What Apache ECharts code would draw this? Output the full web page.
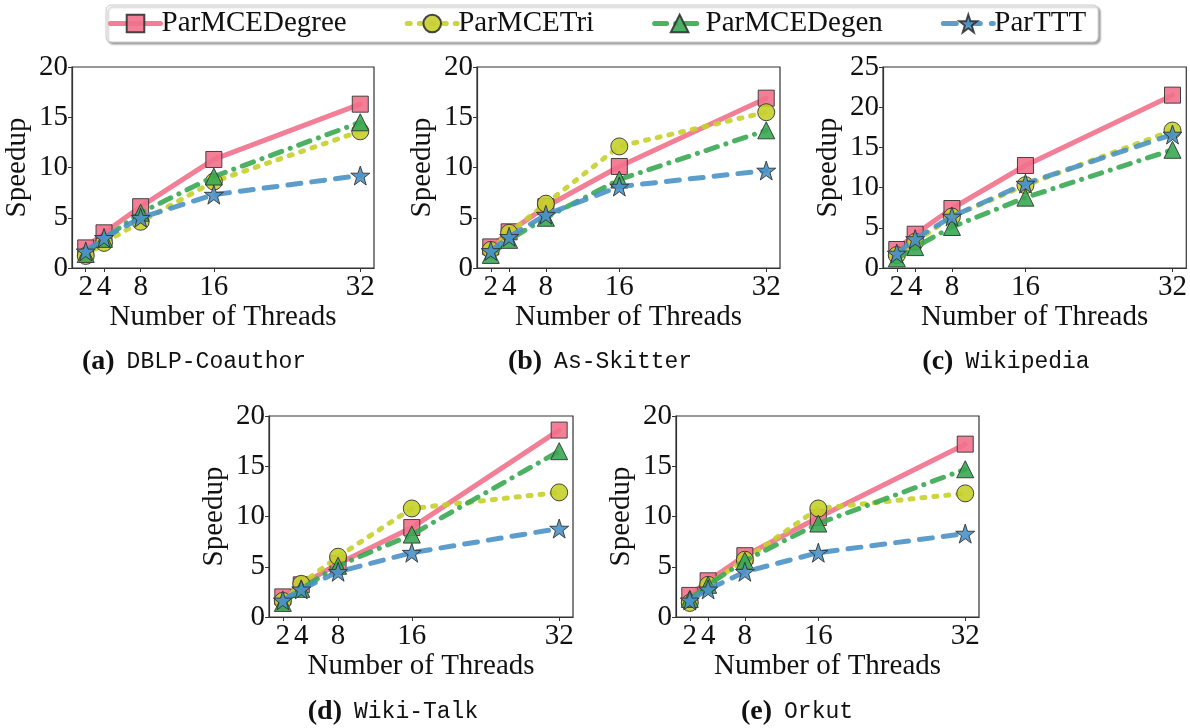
<!DOCTYPE html>
<html>
<head>
<meta charset="utf-8">
<script src="https://cdn.jsdelivr.net/npm/echarts@6/dist/echarts.min.js"></script>
<style>
  html, body { margin: 0; padding: 0; background: #fff; }
  #main { width: 1190px; height: 728px; }
</style>
</head>
<body>
<div id="main"></div>
<script>
// threads on the x axis
const threads = [2, 4, 8, 16, 32];
const names = ['ParMCEDegree', 'ParMCETri', 'ParMCEDegen', 'ParTTT'];

// speedups, rows in the order of names
const dblp = [
    [2.0, 3.5, 6.1, 10.8, 16.3],
    [1.2, 2.5, 4.6, 8.6, 13.6],
    [1.4, 2.9, 5.5, 9.1, 14.5],
    [1.65, 3.0, 5.0, 7.3, 9.2]
];
const skitter = [
    [2.1, 3.6, 6.1, 10.1, 16.9],
    [1.8, 3.5, 6.4, 12.1, 15.5],
    [1.3, 2.8, 5.0, 8.8, 13.7],
    [1.7, 3.1, 5.3, 8.1, 9.7]
];
const wikipedia = [
    [2.3, 4.2, 7.4, 12.75, 21.5],
    [1.6, 3.25, 6.4, 10.3, 17.1],
    [1.2, 2.6, 5.1, 8.75, 14.7],
    [1.8, 3.6, 6.4, 10.5, 16.6]
];
const wikiTalk = [
    [2.0, 3.2, 5.3, 8.9, 18.6],
    [1.6, 3.3, 6.0, 10.8, 12.4],
    [1.4, 2.8, 5.1, 8.2, 16.5],
    [1.65, 2.75, 4.5, 6.4, 8.8]
];
const orkut = [
    [2.15, 3.6, 6.1, 9.9, 17.2],
    [1.4, 3.2, 5.7, 10.8, 12.3],
    [1.8, 3.2, 5.6, 9.3, 14.7],
    [1.65, 2.75, 4.5, 6.4, 8.3]
];
const yMax = [20, 20, 25, 20, 20];
const panels = [dblp, skitter, wikipedia, wikiTalk, orkut];
const captions = [['(a)', 'DBLP-Coauthor'], ['(b)', 'As-Skitter'], ['(c)', 'Wikipedia'],
                  ['(d)', 'Wiki-Talk'], ['(e)', 'Orkut']];

// layout of the panels
const grids = [
    {left: 72, top: 67, width: 302, height: 201},
    {left: 477, top: 67, width: 303, height: 201},
    {left: 883, top: 67, width: 304, height: 201},
    {left: 269, top: 416, width: 304, height: 201},
    {left: 676, top: 416, width: 303, height: 201}
];
const capPos = [[194, 362], [600, 362], [1006, 362], [393, 712], [797, 712]];

const serif = 'Liberation Serif';
const fs = 29;
const star = 'path://M50,2 L61.5,36 L97,36 L68.5,57.5 L79.5,92 L50,71 L20.5,92 L31.5,57.5 L3,36 L38.5,36 Z';

const styles = [
    {color: '#f2718c', symbol: 'rect', size: 16, dash: 'solid'},
    {color: '#c5d02a', symbol: 'circle', size: 17, dash: [3, 9]},
    {color: '#38a852', symbol: 'triangle', size: 17, dash: [12, 9, 0.1, 9]},
    {color: '#4a92c6', symbol: star, size: 19, dash: [13, 11]}
];

let container = document.getElementById('main');
let chart = echarts.init(container);

let xAxes = [], yAxes = [], series = [], graphics = [];
grids.forEach((g, p) => {
    xAxes.push({
        type: 'value', gridIndex: p, min: 0.5, max: 33.5,
        name: 'Number of Threads', nameLocation: 'middle', nameGap: 32,
        nameTextStyle: {fontFamily: serif, fontSize: fs, color: '#111'},
        axisLine: {show: true, onZero: false, lineStyle: {color: '#333', width: 1.2}},
        axisTick: {show: true, customValues: threads, length: 4, lineStyle: {color: '#333'}},
        axisLabel: {customValues: threads, fontFamily: serif, fontSize: fs, color: '#111', margin: 5},
        splitLine: {show: false}
    });
    yAxes.push({
        type: 'value', gridIndex: p, min: 0, max: yMax[p], interval: 5,
        name: 'Speedup', nameLocation: 'middle', nameGap: 40, nameRotate: 90,
        nameTextStyle: {fontFamily: serif, fontSize: fs, color: '#111'},
        axisLine: {show: true, lineStyle: {color: '#333', width: 1.2}},
        axisTick: {show: true, length: 4, lineStyle: {color: '#333'}},
        axisLabel: {fontFamily: serif, fontSize: fs, color: '#111', margin: 4},
        splitLine: {show: false}
    });
    panels[p].forEach((vals, s) => {
        const st = styles[s];
        series.push({
            name: names[s], type: 'line', xAxisIndex: p, yAxisIndex: p,
            data: threads.map((t, i) => [t, vals[i]]),
            symbol: st.symbol, symbolSize: st.size, z: 2 + s,
            lineStyle: {color: st.color, width: 5, type: st.dash, cap: 'round', opacity: 0.9},
            itemStyle: {color: st.color, borderColor: '#333', borderWidth: 1, opacity: 0.9},
            emphasis: {disabled: true},
            animation: false
        });
    });
    graphics.push({
        type: 'text', x: capPos[p][0], y: capPos[p][1],
        style: {
            text: '{b|' + captions[p][0] + '}{m|' + captions[p][1] + '}',
            align: 'center', verticalAlign: 'middle',
            rich: {
                b: {fontFamily: serif, fontWeight: 'bold', fontSize: 28, fill: '#111'},
                m: {fontFamily: 'Liberation Mono', fontSize: 23, fill: '#111', padding: [0, 0, 0, 12]}
            }
        }
    });
});

const option = {
    backgroundColor: '#fff',
    grid: grids.map(g => Object.assign({show: true, borderColor: '#333', borderWidth: 1.2, backgroundColor: 'transparent'}, g)),
    xAxis: xAxes,
    yAxis: yAxes,
    legend: {
        data: names,
        left: 106, top: 5,
        itemWidth: 50, itemHeight: 22, itemGap: 58,
        padding: [4, 12, 4, 2],
        backgroundColor: '#fff',
        borderColor: '#ccc', borderWidth: 1, borderRadius: 5,
        shadowColor: 'rgba(0,0,0,0.35)', shadowBlur: 2, shadowOffsetX: 2, shadowOffsetY: 2,
        lineStyle: {width: 5},
        textStyle: {fontFamily: serif, fontSize: fs, color: '#111', padding: [0, 0, 0, -4]},
        selectedMode: false
    },
    graphic: graphics,
    series: series
};
chart.setOption(option);
</script>
</body>
</html>
